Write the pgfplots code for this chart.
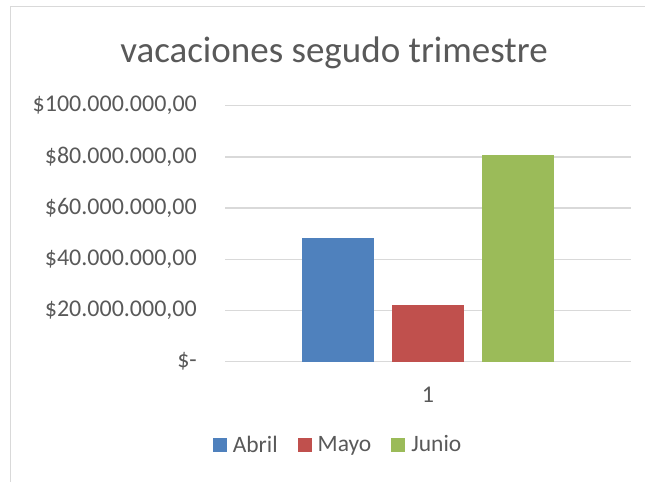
\documentclass[border=0pt]{standalone}
\usepackage{fontspec}
\setmainfont{Carlito}
\usepackage{pgfplots}
\pgfplotsset{compat=1.18}

\definecolor{abril}{HTML}{4F81BD}
\definecolor{mayo}{HTML}{C0504D}
\definecolor{junio}{HTML}{9BBB59}
\definecolor{txt}{HTML}{595959}
\definecolor{gridc}{HTML}{D9D9D9}

\begin{document}
\begin{tikzpicture}
\path[use as bounding box] (0bp,0bp) rectangle (645bp,482bp);
\draw[gridc, line width=1bp] (10bp,-2bp) -- (10bp,475bp) -- (647bp,475bp);
\node[anchor=base, text=txt, font=\fontsize{37bp}{40bp}\selectfont, inner sep=0pt] at (334bp,419bp) {vacaciones segudo trimestre};

\begin{axis}[
  at={(225bp,120.3bp)}, anchor=south west,
  scale only axis, width=406bp, height=256bp,
  ybar=18.5bp, bar width=71.5bp,
  xmin=0.5, xmax=1.5, ymin=0, ymax=100000000,
  xtick={1}, xticklabels={1},
  ytick={0,20000000,40000000,60000000,80000000,100000000},
  yticklabels={{\$-\hspace{11bp}},{\$20.000.000,00},{\$40.000.000,00},{\$60.000.000,00},{\$80.000.000,00},{\$100.000.000,00}},
  axis line style={draw=none}, tick style={draw=none},
  ymajorgrids=true, xmajorgrids=false,
  major grid style={draw=gridc, line width=1.4bp},
  tick label style={text=txt, font=\fontsize{24bp}{27bp}\selectfont},
  yticklabel style={inner sep=0pt, xshift=-28bp},
  xticklabel style={inner sep=0pt, yshift=-21bp},
  scaled y ticks=false,
  legend columns=3,
  legend style={at={(0.276,-0.324)}, anchor=center, draw=none, fill=none,
    font=\fontsize{23.5bp}{26bp}\selectfont, text=txt,
    nodes={inner sep=0pt},
    /tikz/every odd column/.append style={column sep=6bp},
    /tikz/every even column/.append style={column sep=20bp}},
  legend image code/.code={\fill[#1] (0bp,-7bp) rectangle (14bp,7bp);},
]
\addplot[fill=abril, draw=none] coordinates {(1,48300000)};
\addplot[fill=mayo, draw=none] coordinates {(1,22100000)};
\addplot[fill=junio, draw=none] coordinates {(1,80700000)};
\legend{Abril,Mayo,Junio}
\end{axis}
\end{tikzpicture}
\end{document}
